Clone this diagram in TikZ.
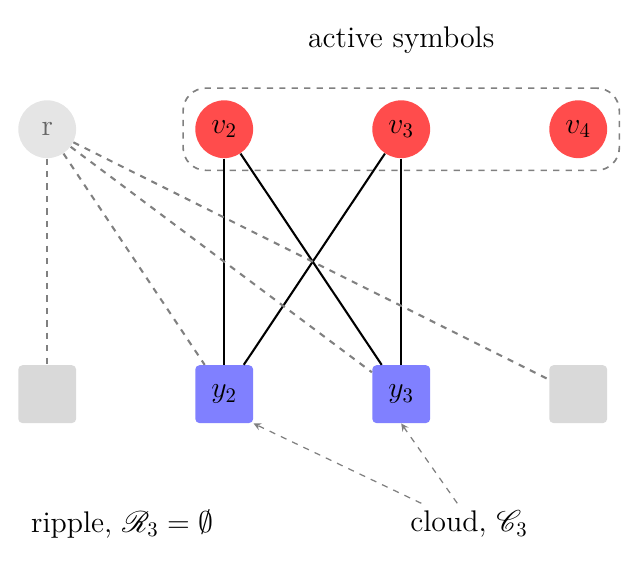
\documentclass[tikz,border=0pt]{standalone}
\usepackage{mathrsfs}
\usetikzlibrary{fit}
\begin{document}
\begin{tikzpicture}[>=stealth,
  sym/.style={circle, fill=red!70, minimum size=0.98cm, inner sep=0pt, font=\Large},
  chk/.style={rectangle, rounded corners=2pt, fill=blue!50, minimum size=0.98cm, inner sep=0pt, font=\Large},
  idle/.style={chk, fill=gray!30},
  edge/.style={line width=1pt},
  link/.style={dashed, gray, line width=1pt}]
  \useasboundingbox (-0.8,2.19) rectangle (10.03,-7.47);
  % symbols
  \node[sym, fill=gray!20, text=black!60] (r) at (0,0) {r};
  \node[sym] (v2) at (3,0) {$v_2$};
  \node[sym] (v3) at (6,0) {$v_3$};
  \node[sym] (v4) at (9,0) {$v_4$};
  % checks
  \node[idle] (s1) at (0,-4.49) {};
  \node[chk] (y2) at (3,-4.49) {$y_2$};
  \node[chk] (y3) at (6,-4.49) {$y_3$};
  \node[idle] (s4) at (9,-4.49) {};
  \node[draw=gray, dashed, line width=0.8pt, rounded corners=11pt, inner sep=0.2cm, fit=(v2)(v4)] (act) {};
  \node[font=\Large] (actlbl) at (6,1.51) {active symbols};
  \draw[edge] (v2) -- (y2);
  \draw[edge] (v2) -- (y3);
  \draw[edge] (v3) -- (y2);
  \draw[edge] (v3) -- (y3);
  \draw[link] (r) -- (s1);
  \draw[link] (r) -- (y2);
  \draw[link] (r) -- (y3);
  \draw[link] (r) -- (s4);
  \node[font=\Large] (rip) at (1.27,-6.69) {ripple, $\mathscr{R}_3 = \emptyset$};
  \node[font=\Large] (cld) at (7.15,-6.69) {cloud, $\mathscr{C}_3$};
  \coordinate (c1) at ([xshift=-0.81cm]cld.north);
  \coordinate (c2) at ([xshift=-0.2cm]cld.north);
  \draw[->, gray, dashed, semithick] (c1) -- (y2.south east);
  \draw[->, gray, dashed, semithick] (c2) -- (y3.south);
\end{tikzpicture}
\end{document}
